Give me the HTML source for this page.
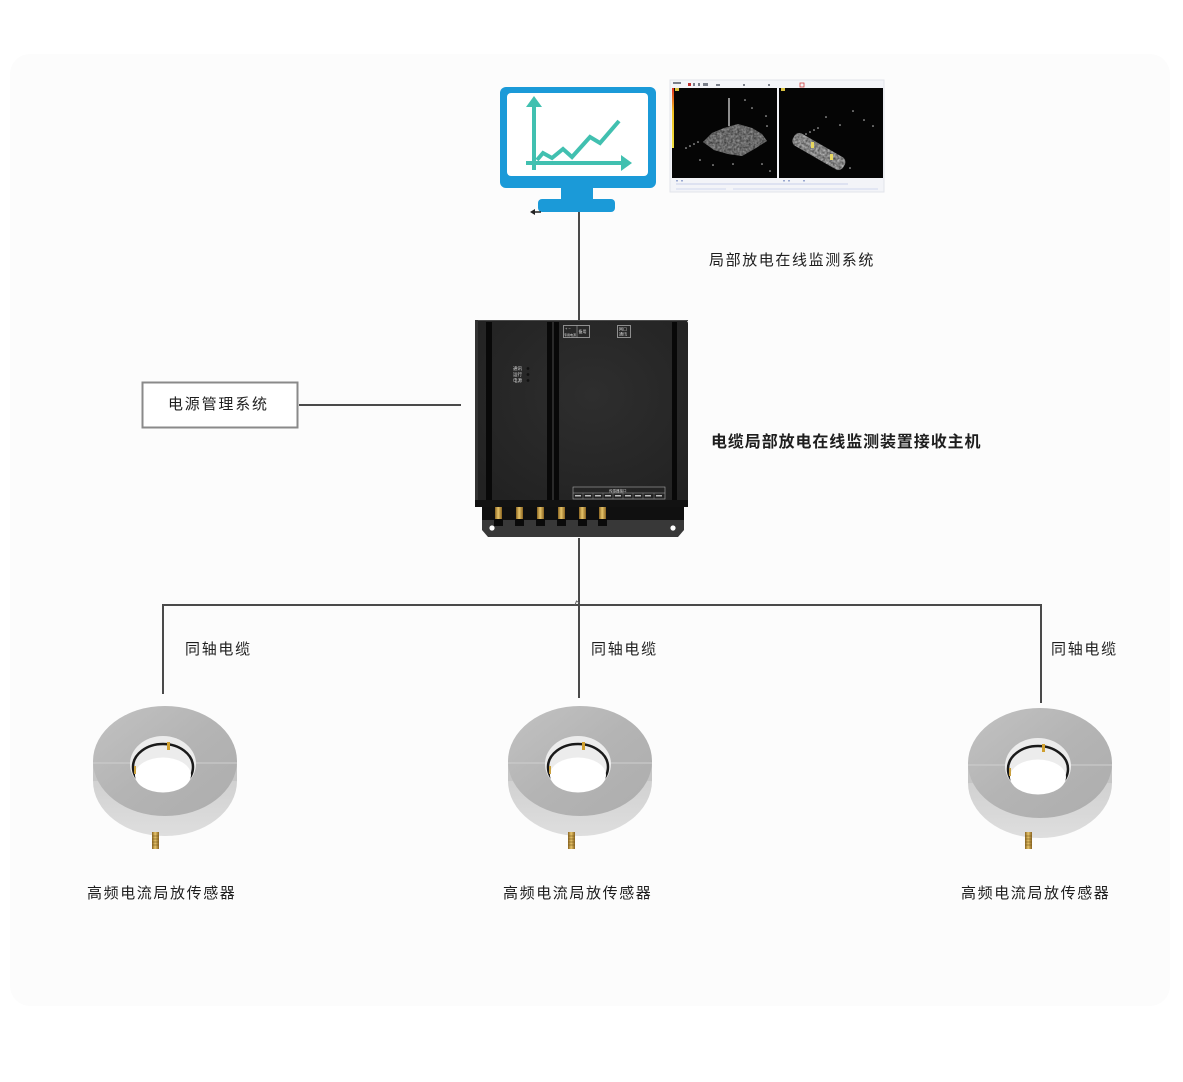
<!DOCTYPE html>
<html>
<head>
<meta charset="utf-8">
<style>
  html,body{margin:0;padding:0;background:#ffffff;}
  #wrap{position:relative;width:1183px;height:1082px;overflow:hidden;background:#ffffff;}
  svg{position:absolute;left:0;top:0;}
  .t{position:absolute;font-family:"Liberation Sans","Noto Sans CJK SC",sans-serif;color:#1e1e1e;white-space:nowrap;line-height:1;}
</style>
</head>
<body>
<div id="wrap">
<svg width="1183" height="1082" viewBox="0 0 1183 1082" xmlns="http://www.w3.org/2000/svg">
  <defs>
    <linearGradient id="ringTop" x1="0" y1="0" x2="1" y2="1">
      <stop offset="0" stop-color="#c2c2c2"/>
      <stop offset="0.5" stop-color="#b4b4b4"/>
      <stop offset="1" stop-color="#adadad"/>
    </linearGradient>
    <linearGradient id="ringSide" x1="0" y1="0" x2="0" y2="1">
      <stop offset="0" stop-color="#c4c4c4"/>
      <stop offset="1" stop-color="#dedede"/>
    </linearGradient>
    <linearGradient id="brass" x1="0" y1="0" x2="1" y2="0">
      <stop offset="0" stop-color="#8a6420"/>
      <stop offset="0.45" stop-color="#e6c46a"/>
      <stop offset="1" stop-color="#8a6420"/>
    </linearGradient>
    <linearGradient id="cbar" x1="0" y1="0" x2="0" y2="1">
      <stop offset="0" stop-color="#e03020"/>
      <stop offset="0.4" stop-color="#f0c020"/>
      <stop offset="1" stop-color="#f0e040"/>
    </linearGradient>
    <radialGradient id="boxShade" cx="0.55" cy="0.4" r="0.7">
      <stop offset="0" stop-color="#2e2e2e"/>
      <stop offset="1" stop-color="#222222"/>
    </radialGradient>
    <filter id="blob" x="-20%" y="-20%" width="140%" height="140%" color-interpolation-filters="sRGB">
      <feTurbulence type="fractalNoise" baseFrequency="0.45" numOctaves="2" seed="7" result="n"/>
      <feColorMatrix type="matrix" values="0 0 0 0 0.05  0 0 0 0 0.05  0 0 0 0 0.05  0 0 0 0.9 -0.1" in="n" result="nc"/>
      <feComposite in="nc" in2="SourceGraphic" operator="in" result="nm"/>
      <feMerge><feMergeNode in="SourceGraphic"/><feMergeNode in="nm"/></feMerge>
    </filter>
  </defs>

  <!-- faint background panel -->
  <rect x="10" y="54" width="1160" height="952" rx="20" fill="#fcfcfc"/>

  <!-- ============ MONITOR ============ -->
  <rect x="500" y="87" width="156" height="101" rx="6" fill="#1b9ad8"/>
  <rect x="507" y="93" width="141" height="83" rx="4" fill="#ffffff"/>
  <rect x="561" y="186" width="32" height="15" fill="#1b9ad8"/>
  <rect x="538" y="199" width="77" height="13" rx="4" fill="#1b9ad8"/>
  <g stroke="#41c0b0" stroke-width="4" fill="none" stroke-linejoin="miter">
    <line x1="534" y1="104" x2="534" y2="170"/>
    <line x1="526" y1="163" x2="624" y2="163"/>
    <polyline points="537,160 543,153 552,158 563,149 572,157 590,137 600,143 619,121"/>
  </g>
  <polygon points="534,96 526,107 542,107" fill="#41c0b0"/>
  <polygon points="632,163 621,155 621,171" fill="#41c0b0"/>
  <line x1="532" y1="212" x2="541" y2="212" stroke="#222" stroke-width="1.5"/>
  <polygon points="530,212 535,209 535,215" fill="#222"/>

  <!-- ============ SCREENSHOT ============ -->
  <rect x="670" y="80" width="214" height="112" fill="#f3f4f8"/>
  <rect x="670" y="80" width="214" height="112" fill="none" stroke="#e2e4ea" stroke-width="1"/>
  <g fill="#7a7f8a">
    <rect x="673" y="82" width="8" height="2"/>
    <rect x="688" y="83" width="3" height="3" fill="#c03030"/>
    <rect x="693" y="83" width="2" height="3"/>
    <rect x="698" y="83" width="2" height="3"/>
    <rect x="703" y="83" width="5" height="3"/>
    <rect x="716" y="84" width="4" height="2"/>
    <rect x="743" y="84" width="2" height="2"/>
    <rect x="768" y="84" width="2" height="2"/>
    <rect x="800" y="83" width="4" height="4" fill="none" stroke="#d04040" stroke-width="0.8"/>
  </g>
  <rect x="672" y="88" width="105" height="90" fill="#050505"/>
  <rect x="779" y="88" width="104" height="90" fill="#050505"/>
  <rect x="672" y="88" width="2" height="60" fill="url(#cbar)"/>
  <rect x="675" y="88" width="4" height="3" fill="#d8c040"/>
  <rect x="781" y="88" width="4" height="3" fill="#d8c040"/>
  <line x1="729" y1="98" x2="729" y2="126" stroke="#bcbcbc" stroke-width="1.5"/>
  <polygon points="703,142 712,133 724,128 738,124 752,128 762,134 767,141 756,148 742,156 728,154 714,150" fill="#9a9a9a" filter="url(#blob)"/>
  <g fill="#c8c8c8">
    <circle cx="686" cy="148" r="0.8"/><circle cx="690" cy="146" r="0.8"/><circle cx="694" cy="144" r="0.8"/><circle cx="698" cy="142" r="0.8"/>
    <circle cx="745" cy="100" r="0.8"/><circle cx="752" cy="108" r="0.8"/><circle cx="766" cy="116" r="0.8"/><circle cx="767" cy="126" r="0.8"/>
    <circle cx="700" cy="160" r="0.8"/><circle cx="713" cy="165" r="0.8"/><circle cx="762" cy="164" r="0.8"/><circle cx="770" cy="171" r="0.8"/>
    <circle cx="733" cy="164" r="0.8"/>
  </g>
  <g transform="rotate(30 818 151)">
    <rect x="790" y="144" width="58" height="14" rx="6" fill="#c4c4c4" filter="url(#blob)"/>
  </g>
  <rect x="811" y="142" width="3" height="6" fill="#e8d860"/>
  <rect x="830" y="154" width="3" height="6" fill="#e8d860"/>
  <g fill="#c8c8c8">
    <circle cx="806" cy="134" r="0.8"/><circle cx="810" cy="132" r="0.8"/><circle cx="814" cy="130" r="0.8"/><circle cx="818" cy="128" r="0.8"/>
    <circle cx="826" cy="117" r="0.8"/><circle cx="853" cy="111" r="0.8"/><circle cx="864" cy="120" r="0.8"/><circle cx="873" cy="126" r="0.8"/>
    <circle cx="840" cy="125" r="0.8"/><circle cx="850" cy="168" r="0.8"/>
  </g>
  <g fill="#9aa8d0">
    <rect x="676" y="180" width="2" height="1.5"/><rect x="681" y="180" width="2" height="1.5"/>
    <rect x="783" y="180" width="2" height="1.5"/><rect x="788" y="180" width="2" height="1.5"/><rect x="803" y="180" width="2" height="1.5"/>
  </g>
  <line x1="676" y1="184" x2="848" y2="184" stroke="#c8d0ea" stroke-width="1"/>
  <line x1="676" y1="189" x2="726" y2="189" stroke="#d2d8ee" stroke-width="1"/>
  <line x1="733" y1="189" x2="878" y2="189" stroke="#d2d8ee" stroke-width="1"/>

  <!-- ============ CONNECTORS ============ -->
  <g stroke="#4a4a4a" stroke-width="2" fill="none">
    <line x1="579" y1="212" x2="579" y2="320"/>
    <line x1="299" y1="405" x2="461" y2="405"/>
    <line x1="579" y1="538" x2="579" y2="698"/>
    <polyline points="163,694 163,605 1041,605 1041,703"/>
  </g>
  <path d="M575,605 l1.5,-4 l3,2" stroke="#666" stroke-width="1" fill="none"/>

  <!-- ============ POWER BOX ============ -->
  <rect x="142.5" y="382.5" width="155" height="45" fill="#ffffff" stroke="#8a8a8a" stroke-width="2"/>

  <!-- ============ RECEIVER BOX ============ -->
  <polygon points="482,503 684,503 684,530 678,537 488,537 482,530" fill="#383838"/>
  <rect x="482" y="503" width="202" height="17" fill="#101010"/>
  <path d="M475,320 L684,320 Q688,320 688,324 L688,507 L475,507 Z" fill="url(#boxShade)"/>
  <line x1="475" y1="320.5" x2="688" y2="320.5" stroke="#4a4a4a" stroke-width="1"/>
  <rect x="475" y="320" width="3" height="187" fill="#333333"/>
  <rect x="486" y="322" width="6" height="180" fill="#080808"/>
  <rect x="547" y="322" width="5" height="180" fill="#080808"/>
  <rect x="552" y="322" width="2" height="180" fill="#2a2a2a"/>
  <rect x="554" y="322" width="5" height="180" fill="#080808"/>
  <rect x="672" y="322" width="5" height="180" fill="#080808"/>
  <rect x="475" y="500" width="213" height="7" fill="#121212"/>
  <g>
    <rect x="495" y="507" width="7" height="12" fill="url(#brass)"/>
    <rect x="516" y="507" width="7" height="12" fill="url(#brass)"/>
    <rect x="537" y="507" width="7" height="12" fill="url(#brass)"/>
    <rect x="558" y="507" width="7" height="12" fill="url(#brass)"/>
    <rect x="579" y="507" width="7" height="12" fill="url(#brass)"/>
    <rect x="599" y="507" width="7" height="12" fill="url(#brass)"/>
  </g>
  <g fill="#0a0a0a">
    <rect x="494" y="519" width="9" height="7"/>
    <rect x="515" y="519" width="9" height="7"/>
    <rect x="536" y="519" width="9" height="7"/>
    <rect x="557" y="519" width="9" height="7"/>
    <rect x="578" y="519" width="9" height="7"/>
    <rect x="598" y="519" width="9" height="7"/>
  </g>
  <circle cx="492" cy="528" r="2.6" fill="#ffffff"/>
  <circle cx="673" cy="528" r="2.6" fill="#ffffff"/>
  <rect x="563.5" y="325.5" width="26" height="12" fill="none" stroke="#bbb" stroke-width="0.7"/>
  <line x1="577" y1="325.5" x2="577" y2="337.5" stroke="#bbb" stroke-width="0.5"/>
  <text x="565" y="330" font-size="4" fill="#ddd" font-family="Liberation Sans, Noto Sans CJK SC, sans-serif">+ −</text>
  <text x="564" y="336" font-size="3" fill="#ddd" font-family="Liberation Sans, Noto Sans CJK SC, sans-serif">专用电源</text>
  <text x="578.5" y="333" font-size="4" fill="#ddd" font-family="Liberation Sans, Noto Sans CJK SC, sans-serif">备用</text>
  <rect x="617.5" y="325.5" width="13" height="12" fill="none" stroke="#bbb" stroke-width="0.7"/>
  <text x="619" y="330.5" font-size="4" fill="#ddd" font-family="Liberation Sans, Noto Sans CJK SC, sans-serif">网口</text>
  <text x="619" y="335.5" font-size="4" fill="#ddd" font-family="Liberation Sans, Noto Sans CJK SC, sans-serif">通讯</text>
  <g font-size="4.5" fill="#d8d8d8" font-family="Liberation Sans, Noto Sans CJK SC, sans-serif">
    <text x="513" y="370">通讯</text>
    <text x="513" y="376">运行</text>
    <text x="513" y="382">电源</text>
  </g>
  <circle cx="528" cy="368.5" r="1.4" fill="#111"/>
  <circle cx="528" cy="374.5" r="1.4" fill="#111"/>
  <circle cx="528" cy="380.5" r="1.4" fill="#111"/>
  <rect x="573" y="487" width="92" height="12" fill="none" stroke="#aaa" stroke-width="0.6"/>
  <line x1="573" y1="493" x2="665" y2="493" stroke="#aaa" stroke-width="0.5"/>
  <text x="609" y="492" font-size="3.5" fill="#ddd" font-family="Liberation Sans, Noto Sans CJK SC, sans-serif">传感器接口</text>
  <g stroke="#999" stroke-width="0.4">
    <line x1="583" y1="493" x2="583" y2="499"/><line x1="593" y1="493" x2="593" y2="499"/>
    <line x1="603" y1="493" x2="603" y2="499"/><line x1="613" y1="493" x2="613" y2="499"/>
    <line x1="623" y1="493" x2="623" y2="499"/><line x1="633" y1="493" x2="633" y2="499"/>
    <line x1="643" y1="493" x2="643" y2="499"/><line x1="654" y1="493" x2="654" y2="499"/>
  </g>
  <g fill="#bbb">
    <rect x="575" y="495" width="6" height="1.5"/><rect x="585" y="495" width="6" height="1.5"/>
    <rect x="595" y="495" width="6" height="1.5"/><rect x="605" y="495" width="6" height="1.5"/>
    <rect x="615" y="495" width="6" height="1.5"/><rect x="625" y="495" width="6" height="1.5"/>
    <rect x="635" y="495" width="6" height="1.5"/><rect x="645" y="495" width="6" height="1.5"/>
    <rect x="656" y="495" width="6" height="1.5"/>
  </g>

  <!-- ============ SENSORS ============ -->
  <g transform="translate(165 0)">
    <ellipse cx="0" cy="781" rx="72" ry="55" fill="url(#ringSide)"/>
    <rect x="-72" y="761" width="144" height="20" fill="#c6c6c6"/>
    <ellipse cx="0" cy="761" rx="72" ry="55" fill="url(#ringTop)"/>
    <line x1="-72" y1="763" x2="-34" y2="763" stroke="#cfcfcf" stroke-width="1"/>
    <line x1="30" y1="763" x2="72" y2="763" stroke="#cfcfcf" stroke-width="1"/>
    <ellipse cx="-2" cy="764" rx="33" ry="28" fill="#ececec"/>
    <ellipse cx="-2" cy="767" rx="30" ry="23" fill="none" stroke="#1a1a1a" stroke-width="2.5"/>
    <ellipse cx="-2" cy="775" rx="28" ry="17.5" fill="#ffffff"/>
    <rect x="2" y="742" width="3" height="8" fill="#d0a030"/>
    <rect x="-31" y="766" width="2" height="8" fill="#c9a040"/>
    <rect x="-13" y="832" width="7" height="17" fill="url(#brass)"/>
    <g stroke="#7a5a1a" stroke-width="0.6"><line x1="-13" y1="836" x2="-6" y2="836"/><line x1="-13" y1="839" x2="-6" y2="839"/><line x1="-13" y1="842" x2="-6" y2="842"/><line x1="-13" y1="845" x2="-6" y2="845"/></g>
  </g>
  <g transform="translate(580 0)">
    <ellipse cx="0" cy="781" rx="72" ry="55" fill="url(#ringSide)"/>
    <rect x="-72" y="761" width="144" height="20" fill="#c6c6c6"/>
    <ellipse cx="0" cy="761" rx="72" ry="55" fill="url(#ringTop)"/>
    <line x1="-72" y1="763" x2="-34" y2="763" stroke="#cfcfcf" stroke-width="1"/>
    <line x1="30" y1="763" x2="72" y2="763" stroke="#cfcfcf" stroke-width="1"/>
    <ellipse cx="-2" cy="764" rx="33" ry="28" fill="#ececec"/>
    <ellipse cx="-2" cy="767" rx="30" ry="23" fill="none" stroke="#1a1a1a" stroke-width="2.5"/>
    <ellipse cx="-2" cy="775" rx="28" ry="17.5" fill="#ffffff"/>
    <rect x="2" y="742" width="3" height="8" fill="#d0a030"/>
    <rect x="-31" y="766" width="2" height="8" fill="#c9a040"/>
    <rect x="-12" y="832" width="7" height="17" fill="url(#brass)"/>
    <g stroke="#7a5a1a" stroke-width="0.6"><line x1="-12" y1="836" x2="-5" y2="836"/><line x1="-12" y1="839" x2="-5" y2="839"/><line x1="-12" y1="842" x2="-5" y2="842"/><line x1="-12" y1="845" x2="-5" y2="845"/></g>
  </g>
  <g transform="translate(1040 2)">
    <ellipse cx="0" cy="781" rx="72" ry="55" fill="url(#ringSide)"/>
    <rect x="-72" y="761" width="144" height="20" fill="#c6c6c6"/>
    <ellipse cx="0" cy="761" rx="72" ry="55" fill="url(#ringTop)"/>
    <line x1="-72" y1="763" x2="-34" y2="763" stroke="#cfcfcf" stroke-width="1"/>
    <line x1="30" y1="763" x2="72" y2="763" stroke="#cfcfcf" stroke-width="1"/>
    <ellipse cx="-2" cy="764" rx="33" ry="28" fill="#ececec"/>
    <ellipse cx="-2" cy="767" rx="30" ry="23" fill="none" stroke="#1a1a1a" stroke-width="2.5"/>
    <ellipse cx="-2" cy="775" rx="28" ry="17.5" fill="#ffffff"/>
    <rect x="2" y="742" width="3" height="8" fill="#d0a030"/>
    <rect x="-31" y="766" width="2" height="8" fill="#c9a040"/>
    <rect x="-15" y="830" width="7" height="17" fill="url(#brass)"/>
    <g stroke="#7a5a1a" stroke-width="0.6"><line x1="-15" y1="834" x2="-8" y2="834"/><line x1="-15" y1="837" x2="-8" y2="837"/><line x1="-15" y1="840" x2="-8" y2="840"/><line x1="-15" y1="843" x2="-8" y2="843"/></g>
  </g>
</svg>

<div class="t" style="left:709px;top:253px;font-size:15px;letter-spacing:1.6px;">局部放电在线监测系统</div>
<div class="t" style="left:711px;top:435px;font-size:16px;letter-spacing:0.9px;font-weight:bold;">电缆局部放电在线监测装置接收主机</div>
<div class="t" style="left:168px;top:397px;font-size:15px;letter-spacing:1.8px;">电源管理系统</div>
<div class="t" style="left:185px;top:642px;font-size:15px;letter-spacing:1.7px;">同轴电缆</div>
<div class="t" style="left:591px;top:642px;font-size:15px;letter-spacing:1.7px;">同轴电缆</div>
<div class="t" style="left:1051px;top:642px;font-size:15px;letter-spacing:1.7px;">同轴电缆</div>
<div class="t" style="left:87px;top:886px;font-size:15px;letter-spacing:1.6px;">高频电流局放传感器</div>
<div class="t" style="left:503px;top:886px;font-size:15px;letter-spacing:1.6px;">高频电流局放传感器</div>
<div class="t" style="left:961px;top:886px;font-size:15px;letter-spacing:1.6px;">高频电流局放传感器</div>
</div>
</body>
</html>
